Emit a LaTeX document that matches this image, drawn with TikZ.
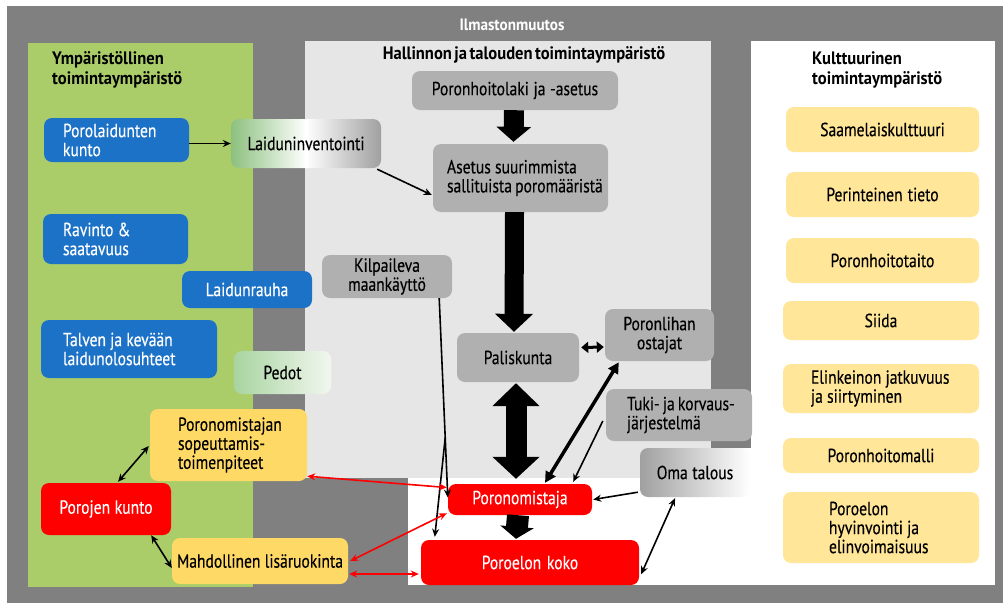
\documentclass[tikz,border=0pt]{standalone}
\usepackage{fontspec}
\setmainfont{PT Sans}[FakeStretch=0.82, WordSpace=0.6, UprightFeatures={FakeBold=0.3}, BoldFeatures={FakeStretch=0.92}]
\usetikzlibrary{arrows.meta,calc}

\definecolor{framegray}{RGB}{128,128,128}
\definecolor{envgreen}{RGB}{170,205,106}
\definecolor{admgray}{RGB}{230,230,230}
\definecolor{boxgray}{RGB}{176,176,176}
\definecolor{boxblue}{RGB}{28,114,198}
\definecolor{boxred}{RGB}{255,0,0}
\definecolor{boxyellow}{RGB}{255,217,102}
\definecolor{boxcream}{RGB}{255,230,153}
\definecolor{gradgreen}{RGB}{140,192,126}
\definecolor{gradgreenlt}{RGB}{168,212,160}
\definecolor{gradgreenend}{RGB}{242,247,239}
\definecolor{gradgray}{RGB}{160,160,160}

\tikzset{
  box/.style={rounded corners=8pt, inner xsep=0pt, inner ysep=0pt,
    font=\fontsize{19}{19}\selectfont, align=center,
    execute at begin node={\exhyphenpenalty=10000\relax\hyphenpenalty=10000\relax
      \spaceskip=4.2pt plus 1pt minus 1pt\relax}},
  bluebox/.style={box, fill=boxblue, text=white, align=left},
  graybox/.style={box, fill=boxgray, text=black},
  redbox/.style={box, fill=boxred, text=white},
  yellowbox/.style={box, fill=boxyellow, text=black},
  creambox/.style={box, fill=boxcream, text=black},
  hdr/.style={inner sep=0pt, font=\fontsize{18}{20}\selectfont\bfseries, align=left},
  conn/.style={line width=1.6pt, -{Stealth[length=8pt,width=7pt]}},
  conndbl/.style={line width=1.6pt, {Stealth[length=8pt,width=7pt]}-{Stealth[length=8pt,width=7pt]}},
  redconn/.style={draw=boxred, line width=1.6pt, {Stealth[length=8pt,width=7pt]}-{Stealth[length=8pt,width=7pt]}},
}

\begin{document}
\begin{tikzpicture}[x=1pt,y=-1pt]
\useasboundingbox (0,0) rectangle (1003,603);
\fill[white] (0,0) rectangle (1003,603);
% climate frame and the three operating environments
\fill[framegray] (7,6) rectangle (1003,603);
\fill[white] (408,448) rectangle (751,585);
\fill[white] (751,41) rectangle (995,585);
\fill[envgreen] (28,43) rectangle (253,587);
\fill[admgray] (305,41) rectangle (711,478);

\node[hdr, text=white, font=\fontsize{16.5}{20}\selectfont\bfseries] (ilm) at (512,25) {Ilmastonmuutos};
\node[hdr, anchor=north west] (ympH) at (52,51) {Ympäristöllinen\\toimintaympäristö};
\node[hdr] (halH) at (524,55) {Hallinnon ja talouden toimintaympäristö};
\node[hdr, anchor=north west] (kultH) at (812,51) {Kulttuurinen\\toimintaympäristö};

% environmental factors
\node[bluebox, minimum width=145pt, minimum height=44pt, text width=107pt] (plk) at (116.5,140) {Porolaidunten\\kunto};
\node[bluebox, minimum width=145pt, minimum height=50pt, text width=105pt] (rav) at (115.5,239) {Ravinto~\&\\saatavuus};
\node[bluebox, align=center, minimum width=130pt, minimum height=37pt, text width=126pt] (lrauha) at (247,289.5) {Laidunrauha};
\node[bluebox, minimum width=176pt, minimum height=58pt, text width=132pt] (talven) at (129,349) {Talven~ja~kevään\\laidunolosuhteet};
\node[box, left color=gradgreen, right color=gradgray, middle color=white, minimum width=150pt, minimum height=49pt, text width=146pt] (linv) at (306,143.5) {Laiduninventointi};
\node[box, left color=gradgreenlt, right color=gradgreenend, minimum width=97pt, minimum height=43pt, text width=93pt] (pedot) at (282.5,372.5) {Pedot};

% administration and economy
\node[graybox, minimum width=206pt, minimum height=39pt, text width=200pt] (laki) at (515,90.5) {Poronhoitolaki ja -asetus};
\node[graybox, align=left, minimum width=175pt, minimum height=68pt, text width=147pt] (asetus) at (520.5,178) {Asetus~suurimmista\\sallituista~poromääristä};
\node[graybox, minimum width=130pt, minimum height=43pt, text width=126pt] (kilp) at (387,276.5) {Kilpaileva\\maankäyttö};
\node[graybox, minimum width=122pt, minimum height=49pt, text width=118pt] (palis) at (518,357.5) {Paliskunta};
\node[graybox, minimum width=109pt, minimum height=52pt, text width=105pt] (ostajat) at (659.5,335) {Poronlihan\\ostajat};
\node[graybox, align=left, minimum width=146pt, minimum height=52pt, text width=104pt] (tuki) at (679,415) {Tuki-~ja~korvaus-\\järjestelmä};
\node[box, left color=gradgray, right color=white, minimum width=110pt, minimum height=49pt, text width=106pt] (oma) at (695,472.5) {Oma talous};

% herder, herd and reindeer
\node[redbox, minimum width=144pt, minimum height=31pt, text width=140pt] (omistaja) at (520,499.5) {Poronomistaja};
\node[redbox, minimum width=218pt, minimum height=45pt, text width=214pt] (koko) at (530,562.5) {Poroelon koko};
\node[redbox, minimum width=130pt, minimum height=52pt, text width=126pt] (pkunto) at (106,509) {Porojen kunto};
\node[yellowbox, align=left, minimum width=157pt, minimum height=72pt, text width=101pt] (sopeut) at (228.5,445) {Poronomistajan\\sopeuttamis-\\toimenpiteet};
\node[yellowbox, minimum width=176pt, minimum height=46pt, text width=172pt] (lisa) at (260,561) {Mahdollinen lisäruokinta};

% cultural factors
\node[creambox, minimum width=193pt, minimum height=45pt, text width=189pt] (saame) at (882.5,129.5) {Saamelaiskulttuuri};
\node[creambox, minimum width=193pt, minimum height=45pt, text width=189pt] (perint) at (882.5,194.5) {Perinteinen tieto};
\node[creambox, minimum width=193pt, minimum height=45pt, text width=189pt] (taito) at (882.5,260.5) {Poronhoitotaito};
\node[creambox, minimum width=196pt, minimum height=39pt, text width=192pt] (siida) at (881,320.5) {Siida};
\node[creambox, align=left, minimum width=196pt, minimum height=49pt, text width=140pt] (elink) at (881,388.5) {Elinkeinon~jatkuvuus\\ja~siirtyminen};
\node[creambox, minimum width=196pt, minimum height=35pt, text width=192pt] (malli) at (881,455.5) {Poronhoitomalli};
\node[creambox, align=left, minimum width=196pt, minimum height=71pt, text width=104pt] (hyvin) at (881,527.5) {Poroelon\\hyvinvointi~ja\\elinvoimaisuus};

% heavy flow arrows
\draw[line width=20pt, -{Triangle[length=15pt,width=34pt]}]
  ([xshift=-1pt]laki.south) -- ([xshift=-7pt,yshift=2pt]asetus.north);
\draw[line width=19pt, -{Triangle[length=18pt,width=37pt]}]
  ([xshift=-6pt]asetus.south) -- ([xshift=-4pt,yshift=1pt]palis.north);
\draw[line width=21pt, {Triangle[length=23pt,width=46pt]}-{Triangle[length=22pt,width=46pt]}]
  ([xshift=-2pt,yshift=-1pt]palis.south) -- ([xshift=-4pt,yshift=5pt]omistaja.north);
\draw[line width=22pt, -{Triangle[length=12pt,width=33pt]}]
  ([xshift=-2pt]omistaja.south) -- ([xshift=-14pt,yshift=1pt]koko.north);

% market links
\draw[line width=3pt, {Triangle[length=7pt,width=11pt]}-{Triangle[length=7pt,width=11pt]}]
  ($(palis.east)+(2,-10)$) -- ($(ostajat.west)+(-1,12)$);
\draw[line width=3.5pt, {Triangle[length=11pt,width=11pt]}-{Triangle[length=11pt,width=11pt]}]
  ($(ostajat.south west)+(14,1)$) -- ($(omistaja.north)+(25,-1)$);

% thin links
\draw[conn] (plk.east |- linv.west) -- (linv.west);
\draw[conn] ($(linv.south east)+(-4,1)$) -- ($(asetus.west)+(-1,17)$);
\draw[conn] ($(tuki.west)+(-3,6)$) -- ($(omistaja.north east)+(-19,-2)$);
\draw[conn] ($(oma.south west)+(-2,-5)$) -- ($(omistaja.east)+(1,0)$);
\draw[conndbl] ($(oma.south)+(-20,1)$) -- ($(koko.south east)+(2,-11)$);
\coordinate (kilpS) at ($(kilp.south east)+(-13,0)$);
\coordinate (kilpSplit) at ($(kilpS)!0.7!($(omistaja.west)+(0,-2)$)$);
\draw[conn] (kilpS) -- ($(omistaja.west)+(0,-2)$);
\draw[conn] (kilpSplit) -- ($(koko.north west)+(14,-3)$);
\draw[conndbl] ($(pkunto.north)+(12,-1)$) -- ($(sopeut.west)+(-1,1)$);
\draw[conndbl] ($(pkunto.south east)+(-20,0)$) -- ($(lisa.west)+(0,7)$);

% herder measures
\draw[redconn] ($(sopeut.south east)+(0,-5)$) -- ($(omistaja.west)+(-1,-12)$);
\draw[redconn] ($(lisa.east)+(2,0)$) -- ($(omistaja.south west)+(-1,-2)$);
\draw[redconn] ($(lisa.east)+(1,13)$) -- ($(koko.west)+(-2,11.5)$);
\end{tikzpicture}
\end{document}
